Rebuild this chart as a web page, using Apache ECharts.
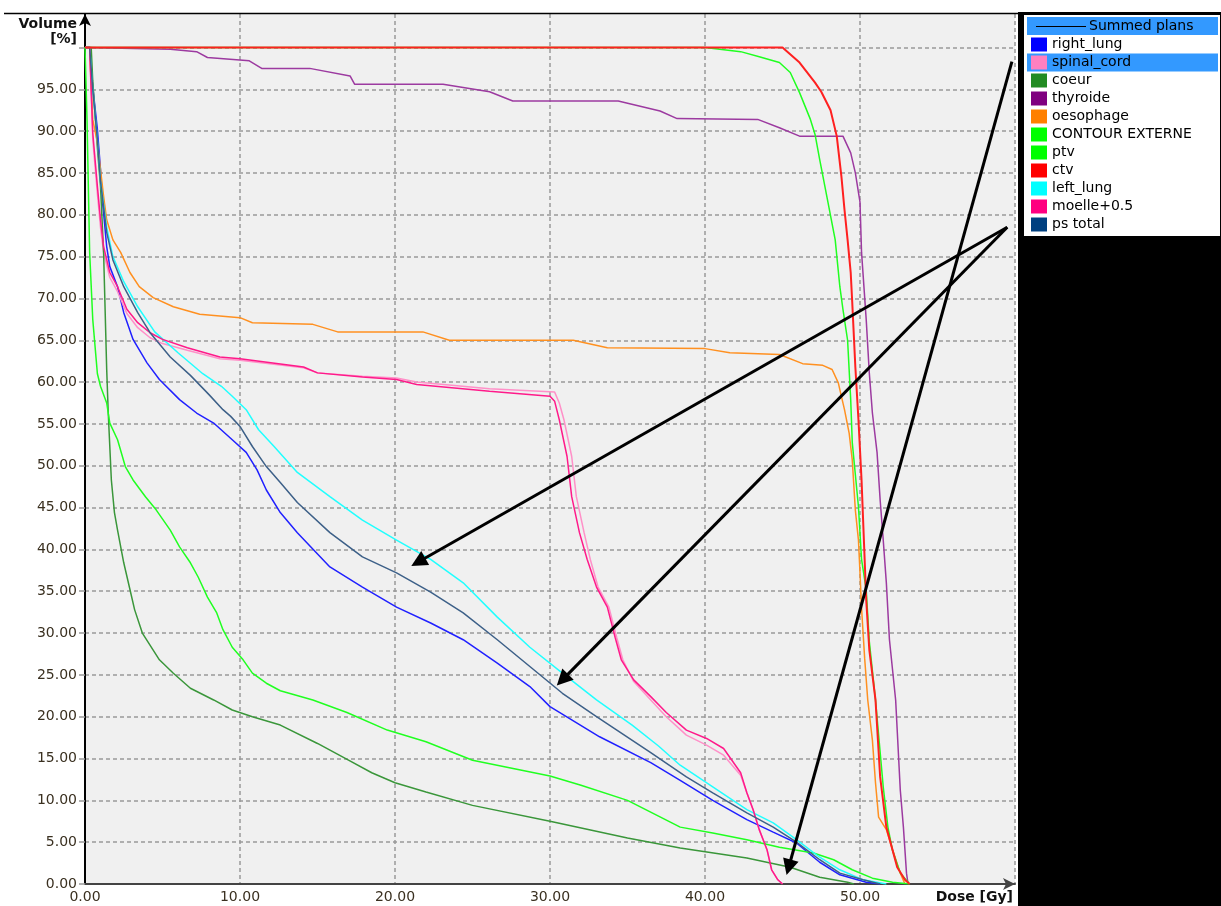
<!DOCTYPE html>
<html>
<head>
<meta charset="utf-8">
<title>DVH - Summed plans</title>
<script src="https://cdn.jsdelivr.net/npm/echarts@6/dist/echarts.min.js"></script>
<style>
html, body { margin: 0; padding: 0; background: #fff; }
#chart { width: 1221px; height: 906px; }
</style>
</head>
<body>
<div id="chart"></div>
<script>
// dose [Gy] / volume [%] pairs
var rightLung = [[0,100],[0.3,100],[0.5,95.3],[0.8,90.2],[1.0,85.4],[1.1,82.2],[1.4,76.2],[1.6,73.8],[2.1,71.4],[2.5,68.3],[3.1,65.1],[4.0,62.3],[4.8,60.3],[6.1,57.9],[7.2,56.3],[8.3,55.1],[9.5,53.1],[10.4,51.6],[11.1,49.5],[11.7,47.1],[12.6,44.4],[13.7,42.0],[15.8,37.9],[17.9,35.5],[20.1,33.1],[22.3,31.2],[24.4,29.2],[26.6,26.4],[28.7,23.6],[30.0,21.2],[33.2,17.6],[36.5,14.5],[38.4,12.4],[40.5,10.0],[42.7,7.7],[44.4,6.2],[45.9,4.9],[47.4,2.6],[48.7,1.1],[50.4,0.2],[51.3,0]];
var spinalCord = [[0,100],[0.3,100],[0.5,89],[0.8,82.5],[1.0,78.5],[1.2,75.5],[1.6,72.5],[2.1,70.8],[2.7,68.2],[3.4,66.5],[4.2,65.3],[5.0,64.6],[6.6,63.8],[8.7,62.8],[10.0,62.6],[14.1,61.7],[15.0,61.1],[17.9,60.7],[20.1,60.5],[21.4,60.0],[26.1,59.2],[30.3,58.8],[30.6,57.5],[30.9,55.5],[31.4,51.1],[31.7,46.3],[32.2,42.0],[32.6,38.8],[33.1,35.5],[33.8,33.1],[34.3,29.5],[34.7,26.8],[35.4,24.2],[36.5,22.0],[37.5,20.0],[38.8,17.8],[40.1,16.6],[41.2,15.4],[42.3,13.0],[42.7,10.9],[43.1,8.9],[43.5,6.5],[44.0,4.1],[44.3,1.7],[44.7,0.5],[45.0,0]];
var coeur = [[0,100],[0.4,100],[0.5,96],[0.8,88],[1.0,83.4],[1.2,75.5],[1.4,61.5],[1.5,56.3],[1.7,48.3],[1.9,44.4],[2.1,42.3],[2.5,38.4],[2.9,35.2],[3.2,32.8],[3.7,30.0],[4.8,26.8],[5.7,25.2],[6.8,23.4],[8.3,22.0],[9.5,20.8],[10.8,20.0],[12.6,19.0],[15.0,16.8],[17.0,14.8],[18.5,13.3],[20.0,12.1],[22.0,11.0],[25.0,9.4],[30.0,7.5],[35.0,5.5],[38.4,4.3],[42.7,3.1],[45.5,2.0],[47.4,0.8],[49.2,0.2],[49.6,0]];
var thyroide = [[0,100],[5.5,99.8],[7.2,99.5],[7.9,98.8],[10.6,98.4],[11.4,97.5],[14.5,97.5],[17.1,96.6],[17.4,95.6],[23.1,95.6],[26.1,94.7],[27.6,93.6],[34.4,93.6],[37.1,92.4],[38.2,91.5],[43.4,91.4],[44.8,90.4],[46.1,89.4],[48.9,89.4],[49.4,87.4],[49.7,85.0],[50.0,81.5],[50.1,75.5],[50.4,67.5],[50.6,61.1],[50.8,56.3],[51.1,51.6],[51.3,45.9],[51.5,41.1],[51.7,36.0],[51.9,29.2],[52.3,22.0],[52.6,11.2],[52.8,6.8],[53.0,1.3],[53.1,0]];
var oesophage = [[0,100],[0.3,100],[0.5,91.4],[0.8,88.6],[1.0,85.4],[1.2,82.2],[1.4,79.4],[1.8,77.0],[2.3,75.5],[2.9,73.1],[3.5,71.4],[4.4,70.1],[5.7,69.0],[7.4,68.1],[10.0,67.7],[10.8,67.1],[14.7,66.9],[16.3,66.0],[21.8,66.0],[23.5,65.0],[31.5,65.0],[33.7,64.1],[40.0,64.0],[41.6,63.5],[44.8,63.3],[46.3,62.2],[47.6,62.0],[48.2,61.5],[48.6,59.9],[48.8,58.3],[49.0,56.7],[49.3,53.9],[49.5,50.7],[49.7,44.7],[49.9,41.1],[50.0,37.2],[50.1,33.0],[50.3,27.0],[50.5,22.0],[50.8,17.2],[51.0,12.1],[51.2,8.0],[51.7,6.5],[52.1,4.1],[52.6,1.3],[52.9,0]];
var contourExterne = [[0,100],[0.13,91.4],[0.3,75.5],[0.5,67.5],[0.8,61.0],[1.0,59.5],[1.4,57.5],[1.6,55.1],[2.1,53.1],[2.6,49.9],[3.1,48.3],[3.9,46.3],[4.6,44.7],[5.5,42.3],[6.1,40.3],[6.8,38.4],[7.3,36.7],[7.9,34.3],[8.5,32.4],[8.9,30.4],[9.5,28.3],[10.2,26.8],[10.8,25.2],[11.7,24.0],[12.6,23.1],[14.7,22.0],[16.9,20.5],[19.5,18.4],[22.0,17.0],[25.0,14.8],[30.0,12.9],[32.0,11.8],[35.0,10.0],[38.4,6.8],[40.5,6.1],[42.7,5.3],[44.8,4.4],[47.0,3.7],[48.3,2.9],[49.5,1.7],[50.8,0.7],[52.1,0.2],[53.2,0]];
var ptv = [[0,100],[40.0,100],[42.3,99.5],[43.5,98.9],[44.8,98.2],[45.5,97.0],[46.1,94.6],[46.8,91.4],[47.1,89.6],[47.4,86.6],[47.9,81.8],[48.4,77.0],[48.7,71.4],[48.9,68.7],[49.2,65.0],[49.4,57.9],[49.5,52.8],[49.9,45.1],[50.1,38.8],[50.4,35.2],[50.6,29.0],[51.0,22.0],[51.5,11.6],[51.8,6.8],[52.1,4.0],[52.6,1.3],[53.2,0]];
var ctv = [[0,100],[45.0,100],[46.1,98.2],[47.1,95.8],[47.5,94.7],[48.1,92.5],[48.5,89.4],[48.8,84.6],[49.0,80.6],[49.2,77.0],[49.4,73.1],[49.5,69.5],[49.7,61.8],[49.9,55.5],[50.1,48.3],[50.3,38.8],[50.4,34.0],[50.6,28.0],[51.0,22.0],[51.3,12.8],[51.7,6.8],[52.4,2.0],[52.9,0.5],[53.2,0]];
var leftLung = [[0,100],[0.3,100],[0.5,95],[0.8,89],[1.0,84],[1.4,78.5],[1.8,75],[2.5,72],[3.4,69],[4.5,66],[6.0,63.5],[7.6,61.0],[8.8,59.5],[9.5,58.3],[10.4,56.7],[11.2,54.3],[12.2,52.3],[13.7,49.2],[15.8,46.3],[17.9,43.5],[20.1,41.1],[22.3,38.8],[24.4,36.0],[26.6,31.9],[28.7,28.3],[30.8,25.2],[33.0,22.0],[35.3,19.0],[37.0,16.5],[38.4,14.2],[40.5,11.6],[42.7,8.9],[44.4,7.3],[45.9,5.3],[47.4,3.2],[48.7,1.7],[50.2,0.5],[51.7,0]];
var moelle = [[0,100],[0.3,100],[0.5,89.8],[0.8,83.4],[1.0,79.4],[1.2,76.2],[1.6,73.1],[2.1,71.4],[2.7,68.7],[3.4,67.1],[4.2,65.9],[5.0,65.1],[6.6,64.1],[8.7,63.0],[10.0,62.8],[14.1,61.8],[15.0,61.1],[17.9,60.6],[20.1,60.3],[21.4,59.7],[26.1,58.9],[30.0,58.3],[30.3,57.7],[30.6,55.5],[31.1,51.1],[31.4,46.3],[31.9,42.0],[32.4,38.8],[33.0,35.5],[33.7,33.1],[34.2,29.5],[34.6,26.8],[35.4,24.4],[36.5,22.4],[37.5,20.5],[38.8,18.4],[40.1,17.4],[41.2,16.2],[42.3,13.3],[42.7,10.9],[43.1,8.9],[43.5,6.5],[44.0,4.1],[44.3,1.7],[44.7,0.5],[45.0,0]];
var psTotal = [[0,100],[0.3,100],[0.5,95],[0.8,89],[1.0,84],[1.4,77.9],[1.8,74.6],[2.5,71.4],[3.4,68.3],[4.2,65.9],[5.5,63.0],[6.8,60.8],[8.0,58.5],[8.9,56.7],[9.4,55.9],[10.0,54.7],[10.8,52.3],[11.7,49.9],[12.6,48.0],[13.7,45.6],[15.8,42.0],[17.9,39.1],[20.1,37.2],[22.3,34.9],[24.4,32.4],[26.6,29.2],[28.7,26.0],[30.8,22.8],[33.0,20.0],[36.5,15.7],[38.8,12.8],[40.5,10.9],[42.7,8.5],[44.4,6.8],[45.9,5.0],[47.4,2.9],[48.7,1.3],[50.2,0.5],[51.3,0]];

var names = ['right_lung', 'spinal_cord', 'coeur', 'thyroide', 'oesophage', 'CONTOUR EXTERNE', 'ptv', 'ctv', 'left_lung', 'moelle+0.5', 'ps total'];
var curves = [rightLung, spinalCord, coeur, thyroide, oesophage, contourExterne, ptv, ctv, leftLung, moelle, psTotal];
var swatch = ['#0000ff', '#ff80c0', '#228b22', '#800080', '#ff8000', '#00ff00', '#00ff00', '#ff0000', '#00ffff', '#ff0080', '#004080'];
var lineCol = ['#2020ff', '#ff90c8', '#3a963a', '#9c3aa0', '#ff9020', '#20ff20', '#20ff20', '#ff2020', '#20ffff', '#ff1a8a', '#3d6088'];

// annotation arrows [dose0, vol0, dose1, vol1]
var arrows = [[59.5, 78.5, 21.5, 38.5], [59.5, 78.5, 30.8, 24.4], [59.8, 98.3, 45.4, 2.0]];

var chart = echarts.init(document.getElementById('chart'));
var font = '"DejaVu Sans", Verdana, sans-serif';

var series = names.map(function (n, i) {
    var top = n === 'ctv';   // red ctv stays on top along the 100 % line
    return {
        name: n,
        type: 'line',
        data: curves[i],
        showSymbol: false,
        symbol: 'none',
        lineStyle: { color: lineCol[i], width: top ? 2 : 1.5 },
        itemStyle: { color: lineCol[i] },
        silent: true,
        z: top ? 3 : 2
    };
});

series.push({
    name: 'arrows',
    type: 'line',
    data: [],
    silent: true,
    z: 5,
    markLine: {
        silent: true,
        symbol: ['none', 'triangle'],
        symbolSize: 16,
        label: { show: false },
        lineStyle: { color: '#000', width: 3, type: 'solid' },
        emphasis: { disabled: true },
        data: arrows.map(function (a) {
            return [{ coord: [a[0], a[1]] }, { coord: [a[2], a[3]] }];
        })
    }
});

// legend panel (drawn by hand, like the original)
var g = [];
g.push({ type: 'rect', shape: { x: 1018, y: 12, width: 203, height: 894 }, style: { fill: '#000' }, z: 10 });
g.push({ type: 'line', shape: { x1: 4, y1: 13.5, x2: 1018, y2: 13.5 }, style: { stroke: '#000', lineWidth: 1.5 }, z: 10 });
g.push({ type: 'rect', shape: { x: 1024, y: 15, width: 196, height: 221 }, style: { fill: '#fff' }, z: 11 });
g.push({ type: 'rect', shape: { x: 1027, y: 17, width: 191, height: 18 }, style: { fill: '#3399ff' }, z: 12 });
g.push({ type: 'line', shape: { x1: 1036, y1: 26.5, x2: 1086, y2: 26.5 }, style: { stroke: '#000', lineWidth: 1 }, z: 13 });
g.push({ type: 'text', x: 1089, y: 26.5, style: { text: 'Summed plans', fill: '#000', font: '14px ' + font, textVerticalAlign: 'middle' }, z: 13 });
names.forEach(function (n, i) {
    var cy = 44.5 + i * 18;
    if (n === 'spinal_cord') {
        g.push({ type: 'rect', shape: { x: 1027, y: cy - 9, width: 191, height: 18 }, style: { fill: '#3399ff' }, z: 12 });
    }
    g.push({ type: 'rect', shape: { x: 1031, y: cy - 7, width: 16, height: 14 }, style: { fill: swatch[i] }, z: 13 });
    g.push({ type: 'text', x: 1052, y: cy, style: { text: n, fill: '#000', font: '14px ' + font, textVerticalAlign: 'middle' }, z: 13 });
});

var option = {
    animation: false,
    backgroundColor: '#fff',
    grid: { left: 85, top: 14, right: 206, bottom: 22, show: true, backgroundColor: '#f0f0f0', borderWidth: 0 },
    xAxis: {
        type: 'value',
        min: 0, max: 60, interval: 10,
        name: 'Dose [Gy]',
        nameLocation: 'end',
        nameGap: 0,
        nameTextStyle: { fontFamily: font, fontWeight: 'bold', fontSize: 14, color: '#111', align: 'right', verticalAlign: 'top', padding: [6, 2, 0, 0] },
        axisLine: { onZero: false, symbol: ['none', 'arrow'], symbolSize: [9, 12], lineStyle: { color: '#444', width: 2 } },
        axisTick: { show: false },
        axisLabel: {
            fontFamily: font, fontSize: 14, color: '#3a3020', margin: 6,
            showMaxLabel: false,
            formatter: function (v) { return v >= 60 ? '' : v.toFixed(2); }
        },
        splitLine: { show: true, showMinLine: false, lineStyle: { color: '#999', width: 1.5, type: [4, 3] } }
    },
    yAxis: {
        type: 'value',
        min: 0, max: 104, interval: 5,
        name: 'Volume\n[%]',
        nameLocation: 'end',
        nameGap: -3,
        nameTextStyle: { fontFamily: font, fontWeight: 'bold', fontSize: 14, lineHeight: 15, color: '#111', align: 'right', verticalAlign: 'top', padding: [0, 8, 0, 0] },
        axisLine: { onZero: false, symbol: ['none', 'arrow'], symbolSize: [9, 12], lineStyle: { color: '#000', width: 2 } },
        axisTick: { show: true, inside: false, length: 6, lineStyle: { color: '#999', width: 1.5 } },
        axisLabel: {
            fontFamily: font, fontSize: 14, color: '#3a3020', margin: 8,
            showMaxLabel: false,
            formatter: function (v) { return v >= 100 ? '' : v.toFixed(2); }
        },
        splitLine: { show: true, showMinLine: false, showMaxLine: false, lineStyle: { color: '#999', width: 1.5, type: [4, 3] } }
    },
    graphic: g,
    series: series
};

chart.setOption(option);
</script>
</body>
</html>
